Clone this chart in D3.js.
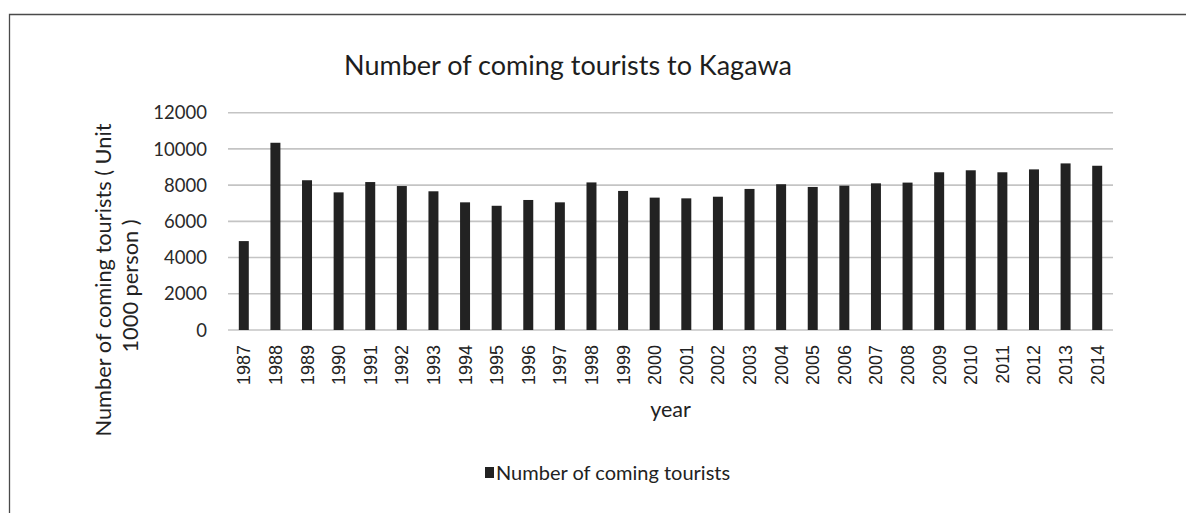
<!DOCTYPE html>
<html>
<head>
<meta charset="utf-8">
<script src="https://cdn.jsdelivr.net/npm/d3@7"></script>
<style>
  html, body { margin: 0; padding: 0; background: #fff; }
  svg { display: block; }
</style>
</head>
<body>
<svg id="chart" width="1186" height="513"></svg>
<script>
// Visitors to Kagawa prefecture, unit: 1000 persons
const years = ["1987","1988","1989","1990","1991","1992","1993","1994","1995","1996",
  "1997","1998","1999","2000","2001","2002","2003","2004","2005","2006",
  "2007","2008","2009","2010","2011","2012","2013","2014"];
const tourists = [4910, 10340, 8270, 7600, 8170, 7950, 7660, 7050, 6860, 7180,
  7050, 8150, 7680, 7310, 7270, 7360, 7790, 8050, 7900, 7970,
  8100, 8140, 8710, 8820, 8710, 8870, 9200, 9070];
const yTicks = [0, 2000, 4000, 6000, 8000, 10000, 12000];

const titleText = "Number of coming tourists to Kagawa";
const yTitleLines = ["Number of coming tourists ( Unit", "1000 person )"];
const xTitleText = "year";
const legendText = "Number of coming tourists";

const svg = d3.select("#chart");
const calibriLike = "Lato, 'Open Sans', sans-serif";

// outer frame (top and left edges)
svg.append("path")
  .attr("d", "M9.5,513 V14.5 H1186")
  .attr("fill", "none")
  .attr("stroke", "#4a4a4a")
  .attr("stroke-width", 1.3);

const x = d3.scaleBand()
  .domain(years)
  .range([228, 1113])
  .paddingInner(0.684)
  .paddingOuter(0.342);

const y = d3.scaleLinear()
  .domain([0, 12000])
  .range([330, 112.7]);

// horizontal gridlines
svg.append("g").selectAll("line")
  .data(yTicks)
  .join("line")
  .attr("x1", x.range()[0])
  .attr("x2", x.range()[1])
  .attr("y1", d => y(d))
  .attr("y2", d => y(d))
  .attr("stroke", "#c4c4c4")
  .attr("stroke-width", 1.6);

// bars
svg.append("g").selectAll("rect")
  .data(years.map((yr, i) => ({ yr, v: tourists[i] })))
  .join("rect")
  .attr("x", d => x(d.yr))
  .attr("width", x.bandwidth())
  .attr("y", d => y(d.v))
  .attr("height", d => y(0) - y(d.v))
  .attr("fill", "#222222");

// y tick labels
svg.append("g").selectAll("text")
  .data(yTicks)
  .join("text")
  .attr("x", 207)
  .attr("y", d => y(d))
  .attr("dy", "0.36em")
  .attr("text-anchor", "end")
  .attr("font-family", calibriLike)
  .attr("font-size", 18.5)
  .attr("fill", "#2a2a2a")
  .text(d => d);

// x tick labels, rotated
svg.append("g").selectAll("text")
  .data(years)
  .join("text")
  .attr("transform", d => `translate(${x(d) + x.bandwidth() / 2},345) rotate(-90)`)
  .attr("dy", "0.36em")
  .attr("text-anchor", "end")
  .attr("font-family", "'Liberation Sans', Arial, sans-serif")
  .attr("font-size", 18)
  .attr("fill", "#222")
  .text(d => d);

// chart title
svg.append("text")
  .attr("x", 568)
  .attr("y", 75)
  .attr("text-anchor", "middle")
  .attr("font-family", calibriLike)
  .attr("font-size", 27)
  .attr("fill", "#1e1e1e")
  .text(titleText);

// y axis title (two lines, rotated)
const yTitle = svg.append("g");
yTitle.append("text")
  .attr("transform", "translate(111,280) rotate(-90)")
  .attr("text-anchor", "middle")
  .attr("font-family", calibriLike)
  .attr("font-size", 21.8)
  .attr("fill", "#222")
  .text(yTitleLines[0]);
yTitle.append("text")
  .attr("transform", "translate(138,286) rotate(-90)")
  .attr("text-anchor", "middle")
  .attr("font-family", calibriLike)
  .attr("font-size", 21.8)
  .attr("fill", "#222")
  .text(yTitleLines[1]);

// x axis title
svg.append("text")
  .attr("x", (x.range()[0] + x.range()[1]) / 2)
  .attr("y", 417)
  .attr("text-anchor", "middle")
  .attr("font-family", calibriLike)
  .attr("font-size", 21.5)
  .attr("fill", "#222")
  .text(xTitleText);

// legend
const legend = svg.append("g").attr("transform", "translate(485,480)");
legend.append("rect")
  .attr("x", 0)
  .attr("y", -13)
  .attr("width", 9)
  .attr("height", 11)
  .attr("fill", "#222");
legend.append("text")
  .attr("x", 11)
  .attr("y", 0)
  .attr("font-family", calibriLike)
  .attr("font-size", 20)
  .attr("fill", "#222")
  .text(legendText);
</script>
</body>
</html>
